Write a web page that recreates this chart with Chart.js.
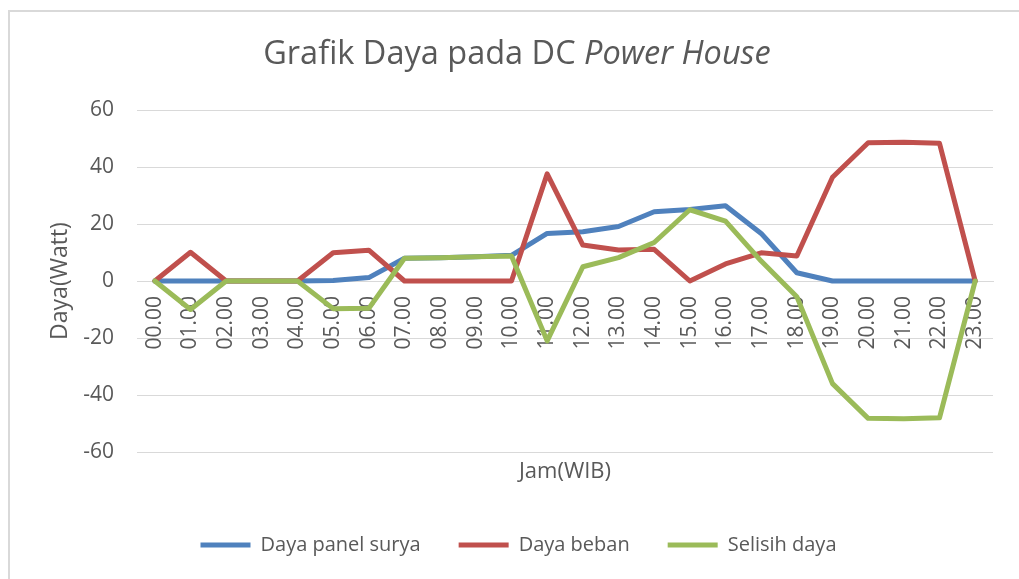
<!DOCTYPE html>
<html>
<head>
<meta charset="utf-8">
<script src="https://cdn.jsdelivr.net/npm/chart.js@4.4.1/dist/chart.umd.min.js"></script>
<style>
  html, body { margin: 0; padding: 0; background: #ffffff; overflow: hidden; }
  #frame { position: absolute; left: 8px; top: 10px; width: 1200px; height: 800px;
           border-left: 2px solid #d9d9d9; border-top: 2px solid #d9d9d9; box-sizing: border-box; }
  #wrap { position: absolute; left: 0; top: 0; width: 1019px; height: 579px; }
</style>
</head>
<body>
<div id="frame"></div>
<div id="wrap"><canvas id="c" width="1019" height="579"></canvas></div>
<script>
// ---- data ----
const hours = ['00.00','01.00','02.00','03.00','04.00','05.00','06.00','07.00','08.00','09.00','10.00','11.00',
               '12.00','13.00','14.00','15.00','16.00','17.00','18.00','19.00','20.00','21.00','22.00','23.00'];
const dayaPanelSurya = [0, 0, 0, 0, 0, 0.2, 1.2, 8.0, 8.2, 8.5, 9.0, 16.7, 17.3, 19.1, 24.3, 25.1, 26.4, 16.7, 2.9, 0, 0, 0, 0, 0];
const dayaBeban      = [0, 10.1, 0, 0, 0, 9.9, 10.8, 0, 0, 0, 0, 37.6, 12.6, 10.9, 11.1, 0, 6.0, 9.9, 8.8, 36.4, 48.5, 48.7, 48.3, 0];
const selisihDaya    = [0, -10.0, 0, 0, 0, -9.7, -9.6, 8.0, 8.2, 8.5, 8.8, -21.0, 5.0, 8.2, 13.5, 25.0, 21.0, 7.0, -5.5, -36.0, -48.2, -48.3, -48.0, 0];
const seriesNames = ['Daya panel surya', 'Daya beban', 'Selisih daya'];
const yTicks = { min: -60, max: 60, step: 20 };
const titleNormal = 'Grafik Daya pada DC ';
const titleItalic = 'Power House';
const yTitle = 'Daya(Watt)';
const xTitle = 'Jam(WIB)';

const FONT = "'Open Sans', 'Liberation Sans', sans-serif";
const TXT = '#595959';
const GRID = '#d9d9d9';

const titlePlugin = {
  id: 'mixedTitle',
  afterDraw(chart) {
    const ctx = chart.ctx;
    ctx.save();
    ctx.fillStyle = TXT;
    ctx.textBaseline = 'alphabetic';
    ctx.textAlign = 'left';
    const fN = `normal 32.5px ${FONT}`;
    const fI = `italic 32.5px ${FONT}`;
    ctx.font = fN; const w1 = ctx.measureText(titleNormal).width;
    ctx.font = fI; const w2 = ctx.measureText(titleItalic).width;
    const cx = 517, by = 64;
    let x = cx - (w1 + w2) / 2;
    ctx.font = fN; ctx.fillText(titleNormal, x, by);
    ctx.font = fI; ctx.fillText(titleItalic, x + w1, by);
    ctx.restore();
  }
};

const mk = (label, data, color, order) => ({
  label, data, borderColor: color, backgroundColor: color,
  borderWidth: 5, pointRadius: 0, pointHoverRadius: 0, tension: 0,
  borderJoinStyle: 'round', borderCapStyle: 'round', order, fill: false
});

new Chart(document.getElementById('c'), {
  type: 'line',
  data: {
    labels: hours,
    datasets: [
      mk(seriesNames[0], dayaPanelSurya, '#4f81bd', 2),
      mk(seriesNames[1], dayaBeban, '#c0504d', 1),
      mk(seriesNames[2], selisihDaya, '#9bbb59', 0)
    ]
  },
  options: {
    responsive: false,
    animation: false,
    devicePixelRatio: 1,
    layout: { padding: { left: 44, right: 26, top: 110, bottom: 14 } },
    plugins: {
      title: { display: false },
      tooltip: { enabled: false },
      legend: {
        display: true,
        position: 'bottom',
        labels: {
          usePointStyle: true,
          pointStyle: 'line',
          pointStyleWidth: 50,
          padding: 38,
          color: TXT,
          font: { family: FONT, size: 20 },
          sort: (a, b) => a.datasetIndex - b.datasetIndex
        }
      }
    },
    scales: {
      x: {
        type: 'category',
        position: { y: 0 },
        offset: true,
        grid: { display: false, drawTicks: false },
        border: { display: true, color: GRID, width: 1 },
        ticks: {
          autoSkip: false, minRotation: 90, maxRotation: 90,
          padding: 15, color: TXT, font: { family: FONT, size: 21 }
        },
        afterFit: (s) => { s.height = 0; }
      },
      x2: {
        type: 'category',
        position: 'bottom',
        offset: true,
        grid: { display: false, drawTicks: false },
        border: { display: false },
        ticks: { display: false },
        title: { display: true, text: xTitle, color: TXT, font: { family: FONT, size: 22 }, padding: { top: 0, bottom: 12 } },
        afterFit: (s) => { s.height = 45; }
      },
      y: {
        min: yTicks.min, max: yTicks.max,
        grid: { color: GRID, lineWidth: 1, drawTicks: false },
        border: { display: false },
        ticks: { stepSize: yTicks.step, padding: 23, color: TXT, font: { family: FONT, size: 21 } },
        title: { display: true, text: yTitle, color: TXT, font: { family: FONT, size: 23 }, padding: { top: 3, bottom: 0 } },
        afterFit: (s) => { s.width = 93; }
      }
    }
  },
  plugins: [titlePlugin]
});
</script>
</body>
</html>
